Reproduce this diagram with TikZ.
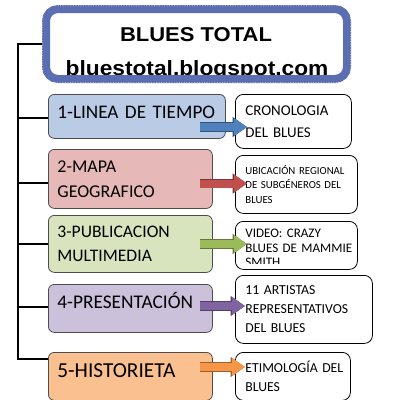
\documentclass[tikz,border=0pt]{standalone}
\usepackage{fontspec}
\setmainfont{Carlito}[WordSpace=0.7]
\newfontfamily\titlefont[FakeStretch=1.1]{Liberation Sans}
\usetikzlibrary{arrows.meta,calc}
\hyphenpenalty=10000
\exhyphenpenalty=10000

\definecolor{marcoazul}{RGB}{92,110,178}
\definecolor{fondoazul}{RGB}{185,203,229}
\definecolor{fondorojo}{RGB}{230,185,184}
\definecolor{fondoverde}{RGB}{215,228,189}
\definecolor{fondomorado}{RGB}{204,193,218}
\definecolor{fondonaranja}{RGB}{250,192,144}
\definecolor{flechaazul}{RGB}{79,129,189}
\definecolor{flecharoja}{RGB}{192,80,77}
\definecolor{flechaverde}{RGB}{155,187,89}
\definecolor{flechamorada}{RGB}{128,100,162}
\definecolor{flechanaranja}{RGB}{247,150,70}

\tikzset{
  caja/.style={draw=black!70, rounded corners=4.5pt, line width=0.6pt,
    inner xsep=6.75pt, inner ysep=0pt, align=left, anchor=north west},
  nota/.style={draw=black, fill=white, rounded corners=6pt, line width=0.6pt,
    inner xsep=7.5pt, inner ysep=0pt, align=left, anchor=north west},
  tronco/.style={line width=1.5pt},
  flecha/.style={draw=#1, line width=6pt, -{Triangle[length=9.75pt,width=12.75pt]},
    preaction={draw=#1!65!black, line width=7.2pt, -{Triangle[length=10.8pt,width=14.4pt]}}}
}

\begin{document}
\begin{tikzpicture}[x=0.75pt,y=-0.75pt]
  \clip (0,0) rectangle (400,400);
  \fill[white] (0,0) rectangle (400,400);

  % titulo
  \node[font=\titlefont\bfseries\fontsize{15}{18}\selectfont] (ttl) at (196,34.5) {BLUES TOTAL};
  \node[font=\titlefont\bfseries\fontsize{15.5}{18}\selectfont, anchor=base] (url) at (197,75) {bluestotal.blogspot.com};
  \node[draw=marcoazul, line width=6pt, rounded corners=9pt, minimum width=225.75pt,
    minimum height=52.5pt] (frame) at (196.5,44) {};
  \draw[white, line width=1.5pt, dash pattern=on 0.7pt off 1.2pt, rounded corners=9pt, opacity=0.45]
    (frame.north west) rectangle (frame.south east);

  % cajas de la izquierda
  \node[caja, fill=fondoazul, minimum width=132.75pt, minimum height=33pt, text width=119.25pt,
    font=\fontsize{14.4}{18.75}\selectfont, text height=9.3pt, text depth=6pt] (l1) at (48,94) {1-LINEA~DE~TIEMPO};
  \node[caja, fill=fondorojo, minimum width=123pt, minimum height=44.25pt, text width=109.5pt,
    font=\fontsize{13.5}{18.75}\selectfont] (l2) at (48,149) {2-MAPA\\GEOGRAFICO};
  \node[caja, fill=fondoverde, minimum width=123pt, minimum height=42.75pt, text width=109.5pt,
    font=\fontsize{13.2}{18}\selectfont] (l3) at (48,215) {3-PUBLICACION\\MULTIMEDIA};
  \node[caja, fill=fondomorado, minimum width=123pt, minimum height=36pt, text width=109.5pt,
    font=\fontsize{14.5}{18}\selectfont, text height=9.4pt, text depth=9pt] (l4) at (48,284) {4-PRESENTACIÓN};
  \node[caja, fill=fondonaranja, minimum width=123pt, minimum height=36pt, text width=109.5pt,
    font=\fontsize{16}{18}\selectfont, text height=10.3pt, text depth=9pt] (l5) at (48,352) {5-HISTORIETA};

  % cajas de la derecha
  \node[nota, minimum width=87pt, minimum height=40.5pt, text width=72pt,
    font=\fontsize{11.2}{16.5}\selectfont] (r1) at (235,94) {CRONOLOGIA\\DEL~BLUES};
  \node[nota, minimum width=91.5pt, minimum height=43.5pt, text width=76.5pt,
    font=\fontsize{8.1}{10.9}\selectfont] (r2) at (235,155) {UBICACIÓN~REGIONAL\\DE~SUBGÉNEROS~DEL\\BLUES};
  \node[nota, minimum width=91.5pt, minimum height=36pt] (r3) at (235,221) {};
  \begin{scope}
    \clip (236,222) rectangle (356,263.5);
    \node[nota, draw=none, fill=none, text width=76.5pt, font=\fontsize{9.8}{10.8}\selectfont]
      (t3) at (235,229) {VIDEO:~CRAZY\\BLUES~DE~MAMMIE\\SMITH};
  \end{scope}
  \node[nota, minimum width=102.75pt, minimum height=51pt, text width=87.75pt,
    font=\fontsize{10.3}{14.25}\selectfont] (r4) at (235,275) {11~ARTISTAS\\REPRESENTATIVOS\\DEL~BLUES};
  \node[nota, minimum width=86.25pt, minimum height=36pt, text width=71.25pt,
    font=\fontsize{10.3}{14.25}\selectfont] (r5) at (235,352) {ETIMOLOGÍA~DEL\\BLUES};

  % tronco y ramas
  \coordinate (b1) at (18,118);
  \coordinate (b2) at (18,183);
  \coordinate (b3) at (18,244);
  \coordinate (b4) at (18,307);
  \coordinate (b5) at (18,359);
  \draw[tronco] (frame.west) -| (b5) -- (b5 -| l5.west);
  \draw[tronco] (b1) -- (b1 -| l1.west);
  \draw[tronco] (b2) -- (b2 -| l2.west);
  \draw[tronco] (b3) -- (b3 -| l3.west);
  \draw[tronco] (b4) -- (b4 -| l4.west);

  % flechas
  \coordinate (a1) at (200,127);
  \coordinate (a2) at (200,183.5);
  \coordinate (a3) at (200,244);
  \coordinate (a4) at (200,306);
  \coordinate (a5) at (200,367);
  \draw[flecha=flechaazul] (a1) -- ($(a1 -| r1.west)+(12,0)$);
  \draw[flecha=flecharoja] (a2) -- ($(a2 -| r2.west)+(12,0)$);
  \draw[flecha=flechaverde] (a3) -- ($(a3 -| r3.west)+(12,0)$);
  \draw[flecha=flechamorada] (a4) -- ($(a4 -| r4.west)+(10,0)$);
  \draw[flecha=flechanaranja] (a5) -- ($(a5 -| r5.west)+(10,0)$);
\end{tikzpicture}
\end{document}
